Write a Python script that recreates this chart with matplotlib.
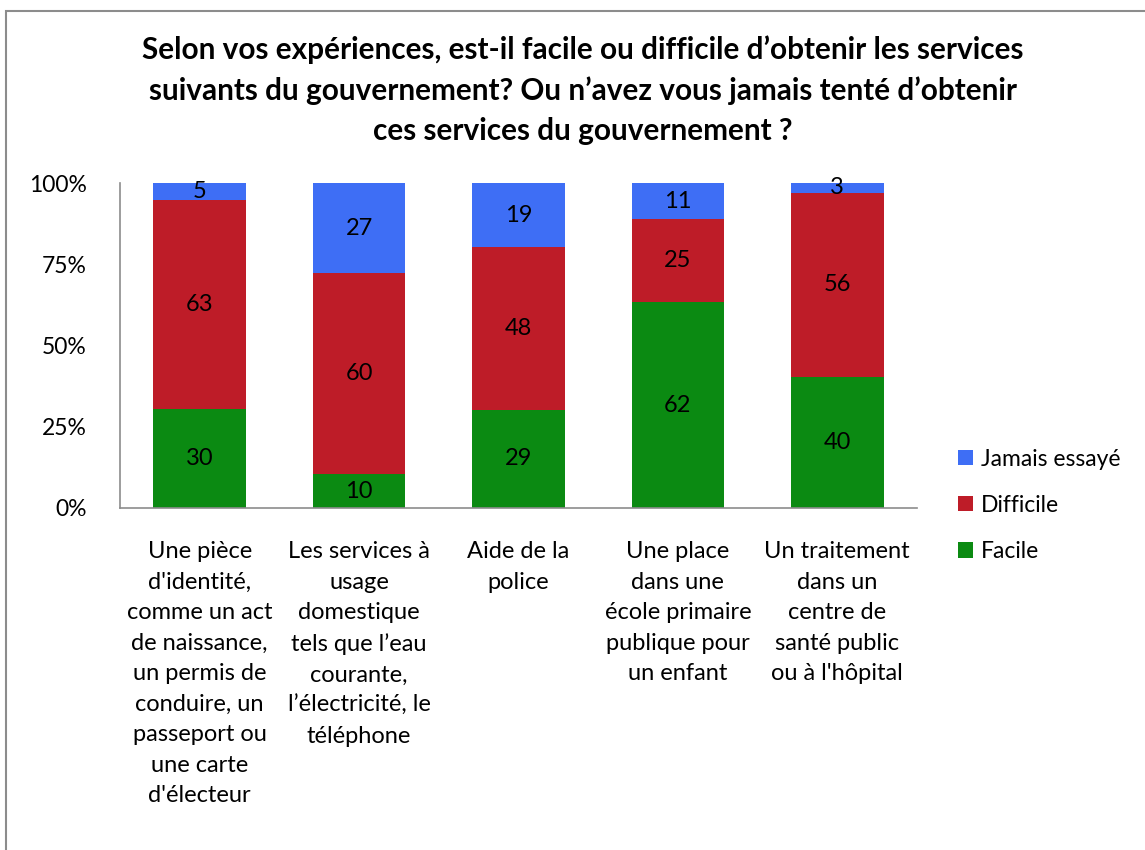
import matplotlib
matplotlib.use("Agg")
import matplotlib.pyplot as plt
from matplotlib.patches import Rectangle, Patch
import numpy as np

plt.rcParams['font.family'] = ['Lato', 'DejaVu Sans']

categories = [
    "Une pièce\nd'identité,\ncomme un act\nde naissance,\nun permis de\nconduire, un\npasseport ou\nune carte\nd'électeur",
    "Les services à\nusage\ndomestique\ntels que l’eau\ncourante,\nl’électricité, le\ntéléphone",
    "Aide de la\npolice",
    "Une place\ndans une\nécole primaire\npublique pour\nun enfant",
    "Un traitement\ndans un\ncentre de\nsanté public\nou à l'hôpital",
]
facile = [30, 10, 29, 62, 40]
difficile = [63, 60, 48, 25, 56]
jamais = [5, 27, 19, 11, 3]
series_names = ["Facile", "Difficile", "Jamais essayé"]
yticks = [0, 25, 50, 75, 100]
yticklabels = ["0%", "25%", "50%", "75%", "100%"]
title = ("Selon vos expériences, est-il facile ou difficile d’obtenir les services\n"
         "suivants du gouvernement? Ou n’avez vous jamais tenté d’obtenir\n"
         "ces services du gouvernement ?")

colors = {"Facile": "#0B8A12", "Difficile": "#BE1C28", "Jamais essayé": "#3E6EF5"}

W, H = 1145, 850
fig = plt.figure(figsize=(W / 100, H / 100), dpi=100)
fig.patch.set_facecolor("white")

# outer border
fig.add_artist(Rectangle((6 / W, -0.01), 1.5, (850 - 11) / H + 0.01, transform=fig.transFigure,
                         fill=False, edgecolor="#8c8c8c", linewidth=1.5))

ax = fig.add_axes([120 / W, (H - 508) / H, (917 - 120) / W, 325 / H])

data = np.array([facile, difficile, jamais], dtype=float)
totals = data.sum(axis=0)
pct = data / totals * 100
x = np.arange(len(categories))
bottom = np.zeros(len(categories))
for name, raw, p in zip(series_names, data, pct):
    ax.bar(x, p, bottom=bottom, width=0.58, color=colors[name], edgecolor="none", zorder=2)
    for i in range(len(x)):
        ax.text(x[i], bottom[i] + p[i] / 2, f"{int(raw[i])}",
                ha="center", va="center", fontsize=17, color="black", zorder=3)
    bottom += p

ax.set_xlim(-0.5, len(categories) - 0.5)
ax.set_ylim(0, 100)
ax.set_yticks(yticks)
ax.set_yticklabels(yticklabels, fontsize=16.5)
ax.tick_params(axis="y", length=0, pad=24)
ax.set_xticks(x)
ax.set_xticklabels(categories, fontsize=17, linespacing=1.56, va="top")
ax.tick_params(axis="x", length=0, pad=24)
for s in ["top", "right"]:
    ax.spines[s].set_visible(False)
for s in ["left", "bottom"]:
    ax.spines[s].set_color("#8c8c8c")
    ax.spines[s].set_linewidth(1.2)

fig.text(583 / W, (H - 35) / H, title, ha="center", va="top",
         fontsize=21.4, fontweight="bold", linespacing=1.52)

handles = [Patch(facecolor=colors[n], edgecolor="none") for n in ["Jamais essayé", "Difficile", "Facile"]]
fig.legend(handles, ["Jamais essayé", "Difficile", "Facile"], loc="upper left",
           bbox_to_anchor=(937 / W, (H - 428) / H), frameon=False, fontsize=16.5,
           handlelength=0.65, handleheight=0.65, handletextpad=0.35, labelspacing=1.1)

fig.savefig("out.png", dpi=100)
